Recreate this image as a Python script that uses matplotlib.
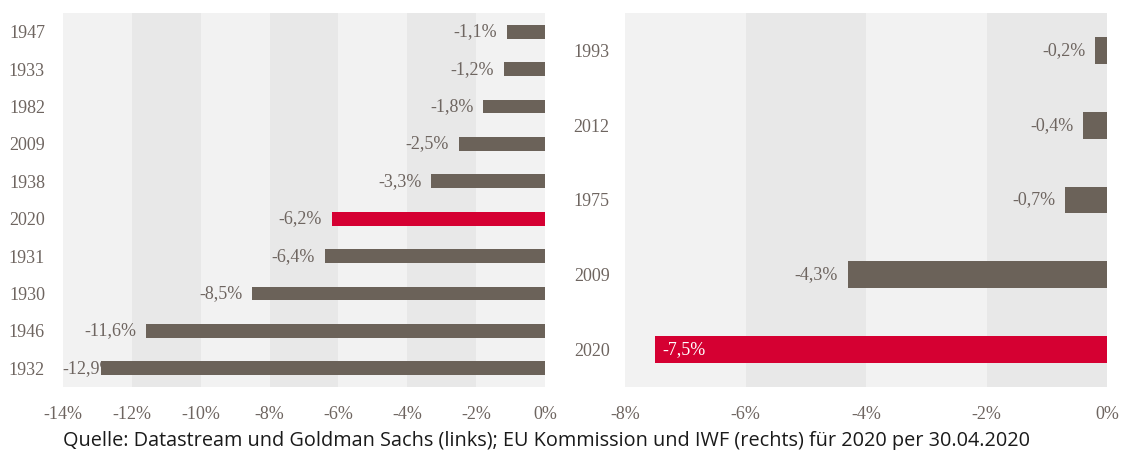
import matplotlib.pyplot as plt
from matplotlib.ticker import FuncFormatter

# left chart: Datastream / Goldman Sachs
left_years = ["1947", "1933", "1982", "2009", "1938", "2020", "1931", "1930", "1946", "1932"]
left_vals = [-1.1, -1.2, -1.8, -2.5, -3.3, -6.2, -6.4, -8.5, -11.6, -12.9]
# right chart: EU Kommission / IWF
right_years = ["1993", "2012", "1975", "2009", "2020"]
right_vals = [-0.2, -0.4, -0.7, -4.3, -7.5]

brown = "#6b6259"
red = "#d50032"
txt = "#6e6560"
light = "#f2f2f2"
dark = "#e8e8e8"
serif = "Liberation Serif"

fig = plt.figure(figsize=(11.22, 4.5), dpi=100)
axL = fig.add_axes([63 / 1122, 1 - 387 / 450, (545 - 63) / 1122, 374 / 450])
axR = fig.add_axes([625 / 1122, 1 - 387 / 450, (1107 - 625) / 1122, 374 / 450])


def fmt(v):
    return ("%.1f%%" % v).replace(".", ",")


def setup(ax, xmin, years, ypad):
    n = len(years)
    ax.set_xlim(xmin, 0)
    ax.set_ylim(n - 0.5, -0.5)
    # alternating background bands, 2% wide
    k = 0
    for x0 in range(xmin, 0, 2):
        ax.axvspan(x0, x0 + 2, color=light if k % 2 == 0 else dark, zorder=0, lw=0)
        k += 1
    for s in ax.spines.values():
        s.set_visible(False)
    ax.set_xticks(range(xmin, 1, 2))
    ax.xaxis.set_major_formatter(FuncFormatter(lambda v, p: "%d%%" % v))
    ax.set_yticks(range(n))
    ax.set_yticklabels(years)
    ax.tick_params(length=0, labelcolor=txt, labelsize=13)
    ax.tick_params(axis="y", pad=ypad)
    ax.tick_params(axis="x", pad=14)
    for lab in ax.get_xticklabels() + ax.get_yticklabels():
        lab.set_fontfamily(serif)


setup(axL, -14, left_years, 13)
colsL = [red if y == "2020" else brown for y in left_years]
axL.barh(range(len(left_vals)), left_vals, height=0.37, color=colsL, zorder=3)
for i, v in enumerate(left_vals):
    # the longest bar leaves no room: its % sign ends up under the bar
    off = 10 if v < -12.5 else -7
    axL.annotate(fmt(v), (v, i), xytext=(off, 0), textcoords="offset points",
                 ha="right", va="center", color=txt, fontsize=13,
                 family=serif, zorder=2, annotation_clip=False)

setup(axR, -8, right_years, 11)
colsR = [red if y == "2020" else brown for y in right_years]
axR.barh(range(len(right_vals)), right_vals, height=0.36, color=colsR, zorder=3)
for i, v in enumerate(right_vals):
    if right_years[i] == "2020":
        axR.annotate(fmt(v), (v, i), xytext=(5, 0), textcoords="offset points",
                     ha="left", va="center", color="white", fontsize=13,
                     family=serif, zorder=4)
    else:
        axR.annotate(fmt(v), (v, i), xytext=(-7, 0), textcoords="offset points",
                     ha="right", va="center", color=txt, fontsize=13,
                     family=serif, zorder=2)

fig.text(63 / 1122, 1 - 446 / 450,
         "Quelle: Datastream und Goldman Sachs (links); EU Kommission und IWF (rechts) für 2020 per 30.04.2020",
         family="Open Sans", fontsize=14.35, color="#1a1a1a", va="baseline")

fig.savefig("out.png", dpi=100)
